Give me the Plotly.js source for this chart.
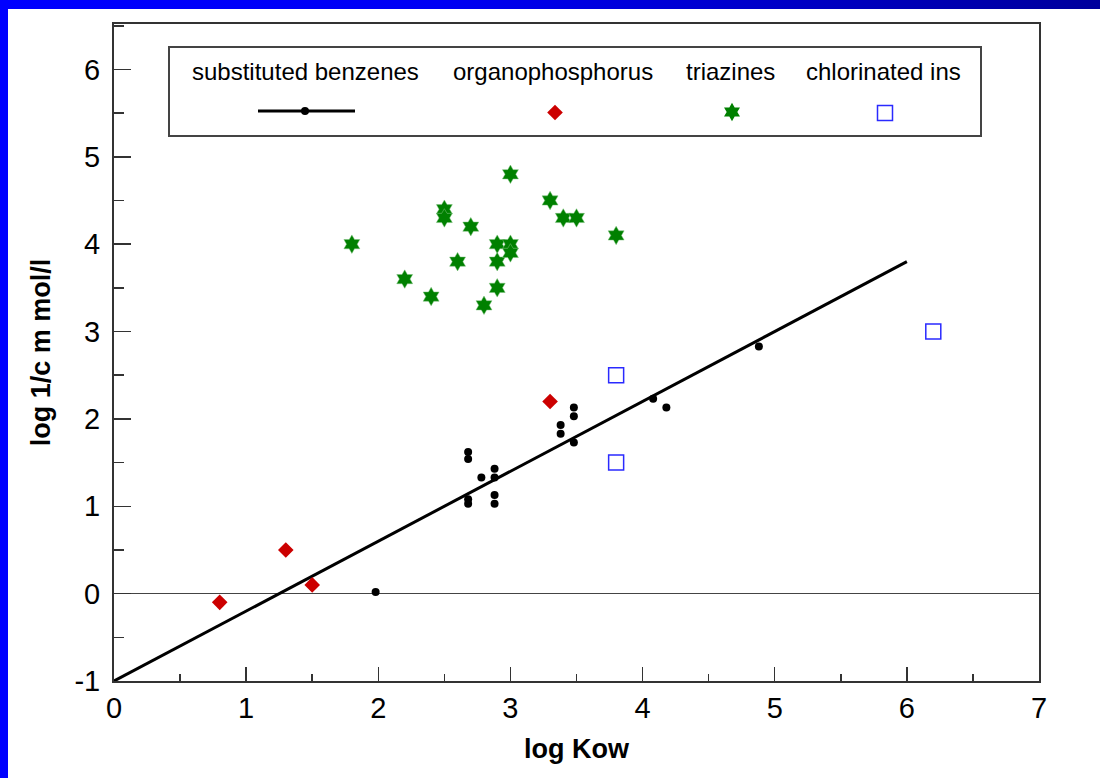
<!DOCTYPE html>
<html>
<head>
<meta charset="utf-8">
<script src="https://cdn.plot.ly/plotly-3.0.1.min.js"></script>
<style>
html,body{margin:0;padding:0;background:#fff;}
#wrap{position:relative;width:1100px;height:778px;overflow:hidden;background:#fff;}
#topbar{position:absolute;left:0;top:0;width:1100px;height:9px;background:linear-gradient(to right,#0000ff 0%,#0000f4 40%,#00009c 100%);}
#leftbar{position:absolute;left:0;top:0;width:8px;height:778px;background:#0000ff;}
#chart{position:absolute;left:0;top:0;width:1100px;height:778px;}
</style>
</head>
<body>
<div id="wrap"><div id="topbar"></div><div id="leftbar"></div><div id="chart"></div></div>
<script>
// ---- data ----
const benzeneX = [1.98, 2.68, 2.68, 2.68, 2.68, 2.78, 2.88, 2.88, 2.88, 2.88, 3.38, 3.38, 3.48, 3.48, 3.48, 4.08, 4.18, 4.88];
const benzeneY = [0.02, 1.62, 1.54, 1.08, 1.03, 1.33, 1.43, 1.33, 1.13, 1.03, 1.93, 1.83, 2.13, 2.03, 1.73, 2.23, 2.13, 2.83];
const organoX = [0.8, 1.3, 1.5, 3.3];
const organoY = [-0.1, 0.5, 0.1, 2.2];
const triazineX = [1.8, 2.2, 2.4, 2.5, 2.5, 2.6, 2.7, 2.8, 2.9, 2.9, 2.9, 3.0, 3.0, 3.0, 3.3, 3.4, 3.5, 3.8];
const triazineY = [4.0, 3.6, 3.4, 4.4, 4.3, 3.8, 4.2, 3.3, 4.0, 3.8, 3.5, 4.8, 4.0, 3.9, 4.5, 4.3, 4.3, 4.1];
const chlorX = [3.8, 3.8, 6.2];
const chlorY = [2.5, 1.5, 3.0];
const fitX = [0, 6];
const fitY = [-1, 3.8];
const seriesNames = ['substituted benzenes', 'organophosphorus', 'triazines', 'chlorinated ins'];
const xTickVals = [0, 1, 2, 3, 4, 5, 6, 7];
const xTickText = ['0', '1', '2', '3', '4', '5', '6', '7'];
const yTickVals = [-1, 0, 1, 2, 3, 4, 5, 6];
const yTickText = ['-1', '0', '1', '2', '3', '4', '5', '6'];

// ---- layout helpers (pixel -> paper) ----
const L = 114, R = 1039, T = 24, B = 681;
const px = v => (v - L) / (R - L);
const py = v => (B - v) / (B - T);

const FONT = '"Liberation Sans", Arial, Helvetica, sans-serif';
const RED = '#cc0000', GREEN = '#008000', BLUE = '#2a2aff';

const traces = [
  {x: fitX, y: fitY, mode: 'lines', line: {color: '#000', width: 3}, hoverinfo: 'skip'},
  {x: benzeneX, y: benzeneY, mode: 'markers', name: seriesNames[0],
   marker: {symbol: 'circle', size: 8, color: '#000'}},
  {x: organoX, y: organoY, mode: 'markers', name: seriesNames[1],
   marker: {symbol: 'diamond', size: 12, color: RED}},
  {x: triazineX, y: triazineY, mode: 'markers', name: seriesNames[2],
   marker: {symbol: 'hexagram', size: 14, color: GREEN, line: {color: '#7cc07c', width: 0.5}}},
  {x: chlorX, y: chlorY, mode: 'markers', name: seriesNames[3],
   marker: {symbol: 'square-open', size: 15, color: BLUE, line: {width: 1.5, color: BLUE}}},
  // legend keys (drawn on a hidden pixel-scaled overlay axis)
  {x: [258, 355], y: [111, 111], xaxis: 'x2', yaxis: 'y2', mode: 'lines', line: {color: '#000', width: 3}, hoverinfo: 'skip'},
  {x: [305], y: [111], xaxis: 'x2', yaxis: 'y2', mode: 'markers', marker: {symbol: 'circle', size: 8, color: '#000'}, hoverinfo: 'skip'},
  {x: [555], y: [112.5], xaxis: 'x2', yaxis: 'y2', mode: 'markers', marker: {symbol: 'diamond', size: 12, color: RED}, hoverinfo: 'skip'},
  {x: [732], y: [112], xaxis: 'x2', yaxis: 'y2', mode: 'markers', marker: {symbol: 'hexagram', size: 14, color: GREEN}, hoverinfo: 'skip'},
  {x: [885], y: [113], xaxis: 'x2', yaxis: 'y2', mode: 'markers', marker: {symbol: 'square-open', size: 15, color: BLUE, line: {width: 1.5, color: BLUE}}, hoverinfo: 'skip'}
];

const legendCentersX = [305.5, 552.5, 730, 883];
const annotations = seriesNames.map((name, i) => ({
  text: name, xref: 'paper', yref: 'paper', x: px(legendCentersX[i]), y: py(71),
  xanchor: 'center', yanchor: 'middle', showarrow: false,
  font: {family: FONT, size: 24, color: '#000'}
}));

const layout = {
  width: 1100, height: 778,
  paper_bgcolor: 'rgba(0,0,0,0)', plot_bgcolor: '#fff',
  margin: {l: L, r: 1100 - R, t: T, b: 778 - B, pad: 0},
  font: {family: FONT, color: '#000'},
  showlegend: false,
  xaxis: {
    range: [0, 7], tickvals: xTickVals, ticktext: xTickText,
    ticks: 'inside', ticklen: 14, tickwidth: 1.5, tickcolor: '#333',
    minor: {dtick: 0.5, tick0: 0, ticks: 'inside', ticklen: 7, tickwidth: 1.5, tickcolor: '#333', showgrid: false},
    showgrid: false, zeroline: false, showline: true, mirror: true, linecolor: '#333', linewidth: 2,
    tickfont: {family: FONT, size: 29, color: '#000'}, ticklabelstandoff: 0,
    title: {text: '<b>log Kow</b>', font: {family: FONT, size: 27, color: '#000'}, standoff: 16}
  },
  yaxis: {
    range: [-1, 6.52], tickvals: yTickVals, ticktext: yTickText,
    ticks: 'inside', ticklen: 17, tickwidth: 1.5, tickcolor: '#333',
    minor: {dtick: 0.5, tick0: -1, ticks: 'inside', ticklen: 10, tickwidth: 1.5, tickcolor: '#333', showgrid: false},
    showgrid: false, zeroline: true, zerolinecolor: '#444', zerolinewidth: 1.5,
    showline: true, mirror: true, linecolor: '#333', linewidth: 2,
    tickfont: {family: FONT, size: 29, color: '#000'}, ticklabelstandoff: 6,
    title: {text: '<b>log 1/c m mol/l</b>', font: {family: FONT, size: 27, color: '#000'}, standoff: 16}
  },
  xaxis2: {overlaying: 'x', range: [L, R], visible: false, fixedrange: true},
  yaxis2: {overlaying: 'y', range: [B, T], visible: false, fixedrange: true},
  shapes: [
    {type: 'rect', xref: 'paper', yref: 'paper', x0: px(169), x1: px(981), y0: py(136), y1: py(47),
     line: {color: '#444', width: 2}, fillcolor: 'rgba(0,0,0,0)', layer: 'above'}
  ],
  annotations: annotations
};

Plotly.newPlot('chart', traces, layout, {displayModeBar: false, staticPlot: true});
</script>
</body>
</html>
